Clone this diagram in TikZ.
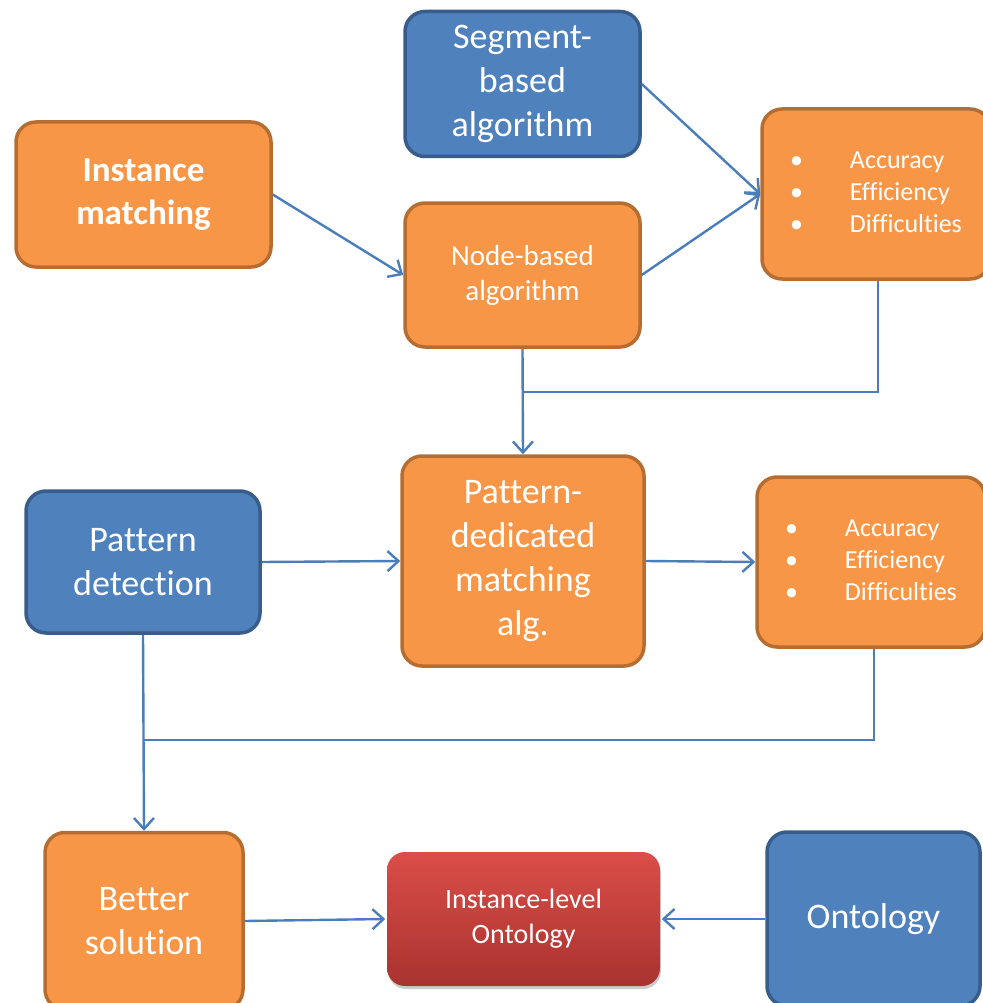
\documentclass[tikz,border=0pt]{standalone}
\usepackage{fontspec}
\setmainfont{Carlito}[Ligatures=NoCommon]
\usetikzlibrary{arrows.meta}
\usetikzlibrary{shadows}

\definecolor{orfill}{HTML}{F79646}
\definecolor{ordraw}{HTML}{B66D31}
\definecolor{blfill}{HTML}{4F81BD}
\definecolor{bldraw}{HTML}{385D8A}
\definecolor{lnblue}{HTML}{4A7EBB}
\definecolor{rdtop}{HTML}{DB4D48}
\definecolor{rdbot}{HTML}{A8332F}

\begin{document}
\begin{tikzpicture}[
		x=1pt, y=-1pt,
		box/.style={rounded corners=20pt, line width=3.5pt, text=white, align=center, inner sep=0pt},
		o/.style={box, draw=ordraw, fill=orfill},
		b/.style={box, draw=bldraw, fill=blfill},
		big/.style={font=\fontsize{36}{44}\selectfont},
		small/.style={font=\fontsize{29}{35}\selectfont},
		a/.style={-{Straight Barb[length=11pt, width=20pt]}, line width=2.4pt, draw=lnblue},
		l/.style={line width=2.4pt, draw=lnblue},
	]
		\useasboundingbox (0,0) rectangle (982,1003);

		\node[b, big, minimum width=235, minimum height=145] (seg) at (522.5,84) {Segment-\\based\\algorithm};
		\node[o, minimum width=255, minimum height=145, font=\fontsize{35}{43}\selectfont\bfseries] (inst) at (143.5,194.5) {Instance\\matching};
		\node[o, small, minimum width=235, minimum height=144] (nodeb) at (522.5,275) {Node-based\\algorithm};
		\node[o, minimum width=228, minimum height=170, font=\fontsize{26}{32}\selectfont] (acc1) at (876,194)
			{\begin{tabular}{@{}l@{\hspace{47pt}}l@{}}•&Accuracy\\•&Efficiency\\•&Difficulties\end{tabular}};

		\node[o, big, minimum width=242, minimum height=210] (pat) at (523,561) {Pattern-\\dedicated\\matching\\alg.};
		\node[b, big, minimum width=234, minimum height=142] (det) at (143,562) {Pattern\\detection};
		\node[o, minimum width=228, minimum height=170, font=\fontsize{26}{32}\selectfont] (acc2) at (871,562)
			{\begin{tabular}{@{}l@{\hspace{47pt}}l@{}}•&Accuracy\\•&Efficiency\\•&Difficulties\end{tabular}};

		\node[o, big, minimum width=198, minimum height=177] (better) at (144,921) {Better\\solution};
		\node[box, small, draw=none, rounded corners=18pt, top color=rdtop, bottom color=rdbot,
			drop shadow={shadow xshift=1pt, shadow yshift=-3pt, opacity=.4},
			minimum width=273, minimum height=134, font=\fontsize{28}{35}\selectfont] (ilo) at (523.5,919) {Instance-level\\Ontology};
		\node[b, big, minimum width=213, minimum height=174] (onto) at (873.5,919) {Ontology};

		\coordinate (j1) at (522.5,392);
		\coordinate (j2) at (144,740);

		\draw[a] (inst.east) -- (nodeb.west);
		\draw[a] (seg.east) -- (acc1.west);
		\draw[a] (nodeb.east) -- (acc1.west);
		\draw[a] (nodeb.south) -- (pat.north);
		\draw[l] (acc1.south -| 878,0) |- (j1);
		\draw[a] (det.east) -- (pat.west);
		\draw[a] (pat.east) -- (acc2.west);
		\draw[a] (det.south) -- (better.north);
		\draw[l] (acc2.south -| 874,0) |- (j2);
		\draw[a] (better.east) -- (ilo.west);
		\draw[a] (onto.west) -- (ilo.east);
	\end{tikzpicture}
\end{document}
